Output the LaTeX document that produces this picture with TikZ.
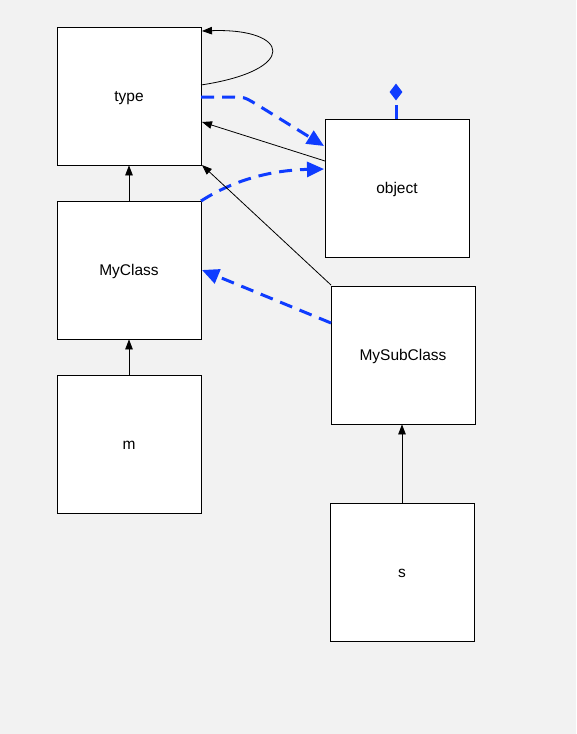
\documentclass[tikz,border=0pt]{standalone}
\usepackage{fontspec}
\setmainfont{Liberation Sans}
\usetikzlibrary{arrows.meta,shapes.geometric}
\definecolor{bg}{RGB}{242,242,242}
\definecolor{bl}{RGB}{15,60,255}
\begin{document}
\begin{tikzpicture}[x=1pt,y=-1pt,
  box/.style={draw=black,fill=white,line width=0.8pt,minimum width=144pt,minimum height=138pt,inner sep=0pt,font=\fontsize{15.5}{18}\selectfont},
  inh/.style={draw=black,line width=0.8pt,-{Triangle[length=10pt,width=7.5pt]}},
  dep/.style={draw=bl,line width=3pt,dash pattern=on 13pt off 8pt,-{Triangle[length=17pt,width=15pt]}}]
\fill[bg] (0,0) rectangle (576,734);
\useasboundingbox (0,0) rectangle (576,734);
\newcommand{\lbl}[1]{\raisebox{-5.5pt}[0pt][0pt]{#1}}
\node[box] (type) at (129,96) {\lbl{type}};
\node[box] (object) at (397,188) {\lbl{object}};
\node[box] (myclass) at (129,270) {\lbl{MyClass}};
\node[box] (mysub) at (403,355) {\lbl{MySubClass}};
\node[box] (m) at (129,444) {\lbl{m}};
\node[box] (s) at (402,572) {\lbl{s}};
% self loop
\coordinate (l1) at (201,85);
\coordinate (l2) at (202,31);
\draw[inh] (l1) .. controls (300,70) and (290,28) .. (l2);
% type -> object dashed
\coordinate (d1) at (201,97);
\coordinate (d2) at (324,146);
\draw[dep] (d1) -- (232,97) .. controls (244,97) .. (256,104) -- (d2);
% object -> type
\coordinate (o1) at (325,161);
\coordinate (t1) at (202,122);
\draw[inh] (o1) -- (t1);
% MyClass -> object dashed
\coordinate (c1) at (201,201);
\coordinate (c2) at (324,169);
\draw[dep] (c1) .. controls (240,176) and (280,170) .. (c2);
% MySubClass -> type
\coordinate (s1) at (331,285);
\coordinate (t2) at (202,165);
\draw[inh] (s1) -- (t2);
% MySubClass -> MyClass dashed
\coordinate (s2) at (331,323);
\coordinate (c3) at (202,270);
\draw[dep] (s2) -- (c3);
% vertical inheritance
\draw[inh] (myclass.north) -- (type.south);
\draw[inh] (m.north) -- (myclass.south);
\draw[inh] (s.north) -- (s.north |- mysub.south);
% diamond
\node[diamond,fill=bl,inner sep=0pt,minimum width=13pt,minimum height=17pt] (dia) at (396,92) {};
\coordinate (st) at (396,105);
\draw[bl,line width=3pt] (st) -- (st |- object.north);
\end{tikzpicture}
\end{document}
